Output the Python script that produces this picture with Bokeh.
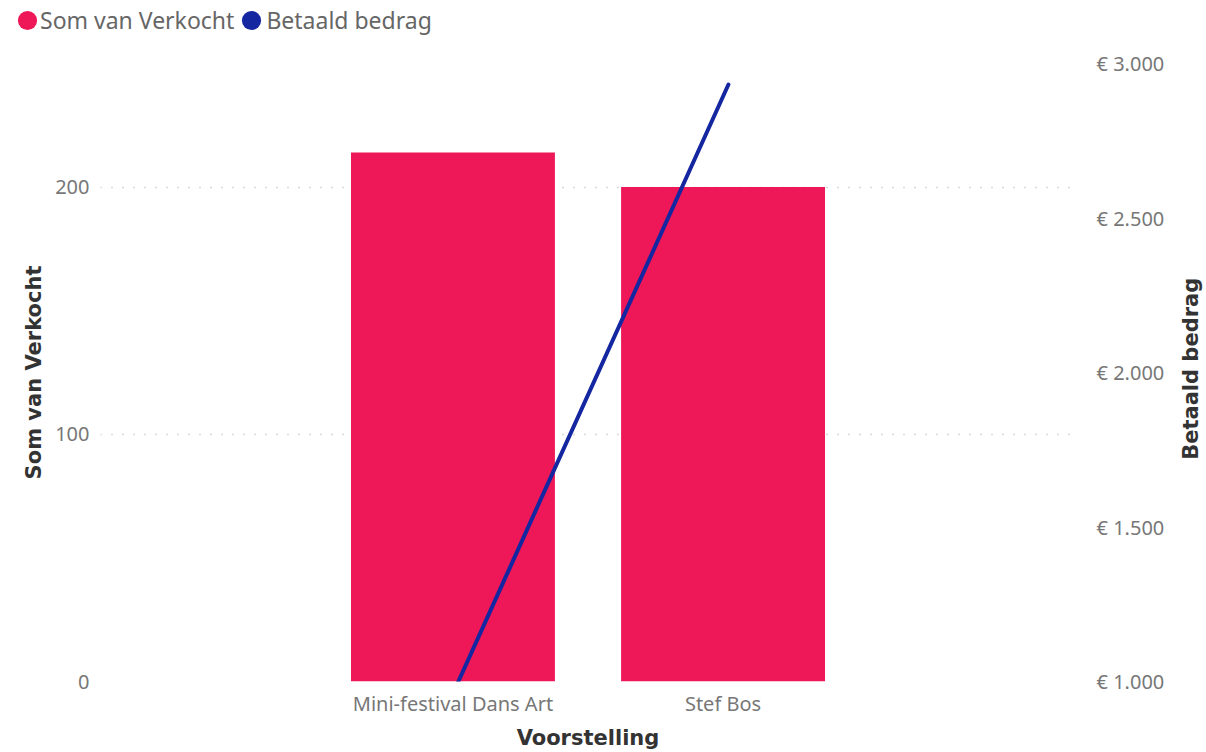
import math
from bokeh.plotting import figure
from bokeh.layouts import column, row
from bokeh.models import (FactorRange, Range1d, LinearAxis, Legend, LegendItem,
                          FixedTicker, ColumnDataSource, Label)
from bokeh.transform import dodge
from bokeh.embed import file_html
from bokeh.resources import INLINE

# ---- data ----
categories = ["Mini-festival Dans Art", "Stef Bos"]
verkocht = [214, 200]
betaald = [1000, 2932]
left_ticks = [0, 100, 200]
right_ticks = [1000, 1500, 2000, 2500, 3000]
right_labels = ["€ 1.000", "€ 1.500", "€ 2.000", "€ 2.500", "€ 3.000"]
series_names = ["Som van Verkocht", "Betaald bedrag"]

BAR = "#EE1758"
LINE = "#1426A0"
TICK_FONT = "Noto Sans"
TITLE_FONT = "DejaVu Sans"
TICK_COLOR = "#777777"
TITLE_COLOR = "#333333"

src = ColumnDataSource(dict(cat=categories, verkocht=verkocht, betaald=betaald))

# ---------- main chart ----------
p = figure(width=1178, height=704,
           x_range=FactorRange(factors=categories, range_padding=0.805,
                               range_padding_units="absolute"),
           y_range=Range1d(0, 250),
           output_backend="svg", toolbar_location=None,
           min_border_left=100, min_border_right=103,
           min_border_top=15, min_border_bottom=71)
p.outline_line_color = None
p.background_fill_color = "white"
p.border_fill_color = "white"

p.extra_y_ranges = {"eur": Range1d(1000, 3000)}

p.vbar(x="cat", top="verkocht", width=0.755, source=src,
       fill_color=BAR, line_color=None)
p.line(x=dodge("cat", 0.02, range=p.x_range), y="betaald", source=src,
       y_range_name="eur", line_color=LINE, line_width=4, line_cap="round")

def style(ax, label, lab_standoff, title_standoff):
    if label:
        ax.axis_label = label
    ax.axis_line_color = None
    ax.major_tick_line_color = None
    ax.minor_tick_line_color = None
    ax.major_label_text_font = TICK_FONT
    ax.major_label_text_font_size = "20px"
    ax.major_label_text_color = TICK_COLOR
    ax.major_label_standoff = lab_standoff
    ax.axis_label_text_font = TITLE_FONT
    ax.axis_label_text_font_style = "bold"
    ax.axis_label_text_font_size = "21px"
    ax.axis_label_text_color = TITLE_COLOR
    ax.axis_label_standoff = title_standoff

style(p.xaxis[0], "Voorstelling", 2, 6)

ya = p.yaxis[0]
ya.ticker = FixedTicker(ticks=left_ticks)
style(ya, "Som van Verkocht", 5, 6)

ra = LinearAxis(y_range_name="eur", ticker=FixedTicker(ticks=right_ticks),
                major_label_overrides={t: l for t, l in zip(right_ticks, right_labels)})
style(ra, None, 15, 0)
p.add_layout(ra, "right")

p.xgrid.grid_line_color = None
p.ygrid.grid_line_color = "#B4B4B4"
p.ygrid.grid_line_dash = "1 10"
p.ygrid.grid_line_width = 1.5

# ---------- right axis title (reads bottom to top) ----------
pt = figure(width=28, height=704, x_range=Range1d(0, 1), y_range=Range1d(0, 1),
            output_backend="svg", toolbar_location=None, min_border=0)
pt.axis.visible = False
pt.grid.visible = False
pt.outline_line_color = None
pt.add_layout(Label(x=0.43, y=0.506, text="Betaald bedrag", angle=math.pi / 2,
                    text_align="center", text_baseline="middle",
                    text_font=TITLE_FONT, text_font_style="bold",
                    text_font_size="21px", text_color=TITLE_COLOR))

# ---------- legend strip ----------
pl = figure(width=1206, height=48, x_range=Range1d(0, 1), y_range=Range1d(0, 1),
            output_backend="svg", toolbar_location=None, min_border=0)
pl.axis.visible = False
pl.grid.visible = False
pl.outline_line_color = None
# legend-only renderers: their single point lies outside the visible range
d1 = pl.scatter(x=[-5], y=[-5], marker="circle", size=19, fill_color=BAR, line_color=None)
d2 = pl.scatter(x=[-5], y=[-5], marker="circle", size=19, fill_color=LINE, line_color=None)
# empty renderers for the text-only legend (draw no glyph)
e1 = pl.scatter(x=[], y=[], marker="circle", size=1, fill_alpha=0, line_alpha=0)
e2 = pl.scatter(x=[], y=[], marker="circle", size=1, fill_alpha=0, line_alpha=0)

def marker_legend(rend, x):
    return Legend(items=[LegendItem(label=" ", renderers=[rend])],
                  orientation="horizontal", location=(x, 4),
                  glyph_width=48, glyph_height=48, label_standoff=0, spacing=0,
                  padding=0, margin=0, border_line_color=None,
                  background_fill_alpha=0, label_text_font_size="2px")

pl.add_layout(marker_legend(d1, 3), "center")
pl.add_layout(marker_legend(d2, 227), "center")

text_legend = Legend(items=[LegendItem(label=series_names[0], renderers=[e1]),
                            LegendItem(label=series_names[1], renderers=[e2])],
                     orientation="horizontal", location=(40, 4),
                     glyph_width=0, glyph_height=48, label_standoff=0, spacing=32,
                     padding=0, margin=0, border_line_color=None,
                     background_fill_alpha=0,
                     label_text_font=TICK_FONT, label_text_font_size="23px",
                     label_text_color="#666666")
pl.add_layout(text_legend, "center")

layout = column(pl, row(p, pt))
open("out.html", "w").write(file_html(layout, INLINE))
